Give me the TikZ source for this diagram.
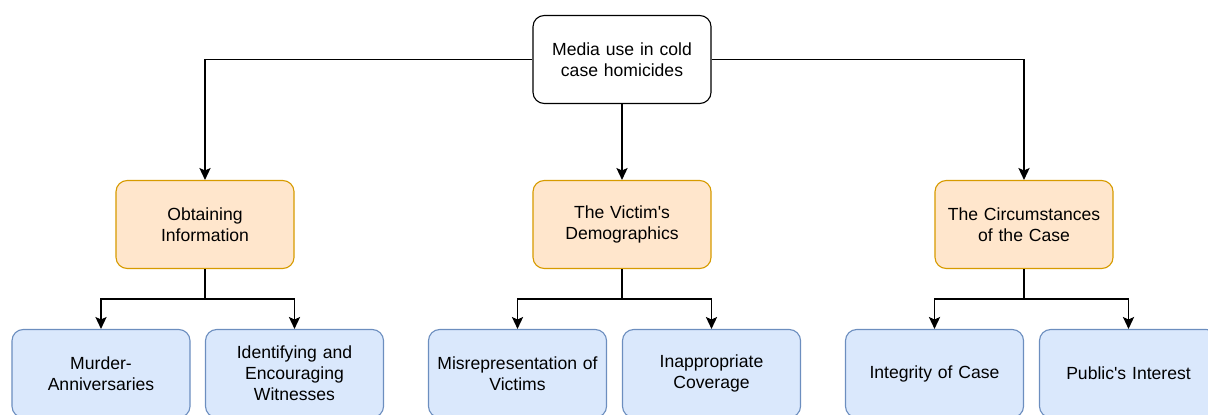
\documentclass[tikz,border=0pt]{standalone}
\usepackage{fontspec}
\setmainfont{Liberation Sans}
\usetikzlibrary{arrows.meta}
\definecolor{rootline}{HTML}{000000}
\definecolor{midfill}{HTML}{FFE6CC}
\definecolor{midline}{HTML}{D79B00}
\definecolor{leaffill}{HTML}{DAE8FC}
\definecolor{leafline}{HTML}{6C8EBF}
\begin{document}
\begin{tikzpicture}[
    x=0.025cm,y=-0.025cm,
    box/.style={rounded corners=8pt,line width=0.8pt,align=center,
        minimum width=4.45cm,minimum height=2.2cm,text width=4.2cm,
        font={\fontsize{12.5}{15}\selectfont}},
    rootbox/.style={box,draw=rootline,fill=white},
    midbox/.style={box,draw=midline,fill=midfill},
    leafbox/.style={box,draw=leafline,fill=leaffill},
    link/.style={-{Stealth[length=8.5pt,width=8pt,inset=1.8pt]},line width=1pt},
    ]
    % Page
    \useasboundingbox (0,0) rectangle (1208,414);

    % Root
    \node[rootbox] (root) at (622,59.5) {Media use in cold\\case homicides};

    % Themes
    \node[midbox] (obt) at (205,224.5) {Obtaining\\Information};
    \node[midbox] (vic) at (622,224.5) {The Victim\textquotesingle s\\Demographics};
    \node[midbox] (circ) at (1024,224.5) {The Circumstances\\of the Case};

    % Sub-themes
    \node[leafbox] (murder) at (101,373.5) {Murder-\\Anniversaries};
    \node[leafbox] (witness) at (294.5,373.5) {Identifying and\\Encouraging\\Witnesses};
    \node[leafbox] (misrep) at (517.5,373.5) {Misrepresentation of\\Victims};
    \node[leafbox] (coverage) at (711.5,373.5) {Inappropriate\\Coverage};
    \node[leafbox] (integrity) at (934.5,373.5) {Integrity of Case};
    \node[leafbox] (public) at (1128.5,373.5) {Public\textquotesingle s Interest};

    % Root to themes
    \draw[link] (root.west) -| (obt.north);
    \draw[link] (root.south) -- (vic.north);
    \draw[link] (root.east) -| (circ.north);

    % Themes to sub-themes
    \draw[link] (obt.south) -- ++(0,30) -| (murder.north);
    \draw[link] (obt.south) -- ++(0,30) -| (witness.north);
    \draw[link] (vic.south) -- ++(0,30) -| (misrep.north);
    \draw[link] (vic.south) -- ++(0,30) -| (coverage.north);
    \draw[link] (circ.south) -- ++(0,30) -| (integrity.north);
    \draw[link] (circ.south) -- ++(0,30) -| (public.north);

\end{tikzpicture}
\end{document}
